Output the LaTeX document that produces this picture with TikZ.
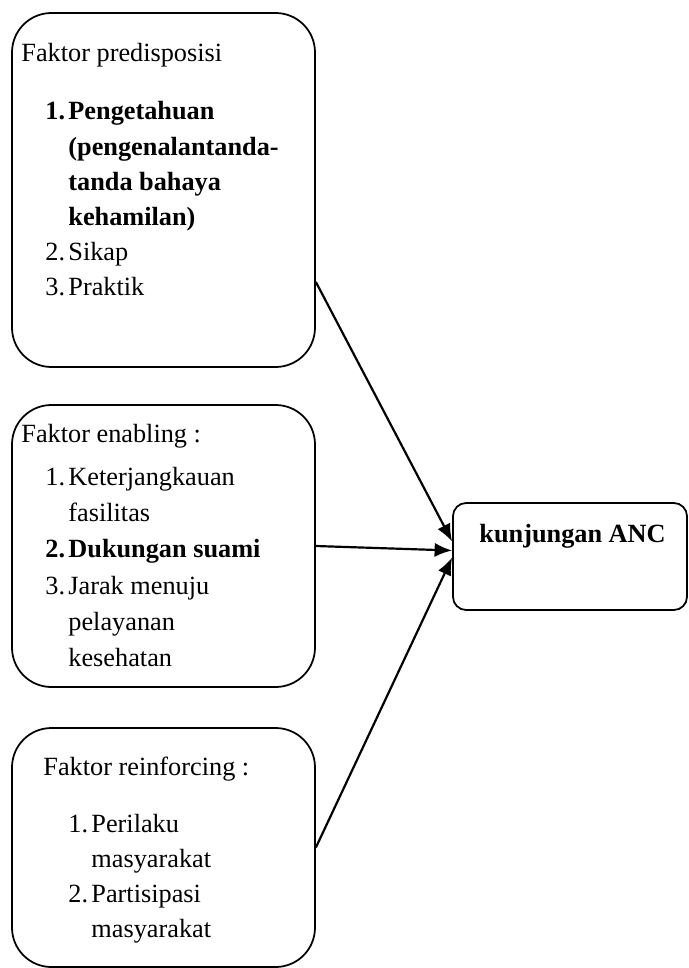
\documentclass[tikz,border=0pt]{standalone}
\usepackage{fontspec}
\setmainfont{Liberation Serif}
\usepackage{tikz}
\usetikzlibrary{arrows.meta}
\usetikzlibrary{positioning}
\usetikzlibrary{fit,calc}
\tikzset{
    factorbox/.style={draw=black, line width=0.8pt, rounded corners=18pt, inner sep=0pt},
    ancbox/.style={draw=black, line width=0.8pt, rounded corners=6pt, inner sep=0pt},
    txt/.style={inner sep=0pt, anchor=base west, font=\fontsize{12}{16}\selectfont},
    influence/.style={draw=black, line width=1pt, -{Latex[length=8pt,width=6.5pt]}},
}
\newcommand{\itm}[2]{\makebox[10.5pt][l]{#1}#2}

\begin{document}
\begin{tikzpicture}[x=0.4566pt, y=-0.4566pt]
	\useasboundingbox (0,0) rectangle (689,968);
	% boxes
	\node[factorbox, fit={(12,13) (315,367)}] (pred) {};
	\node[factorbox, fit={(12,405) (315,687)}] (enab) {};
	\node[factorbox, fit={(12,728) (315,967)}] (rein) {};
	\node[ancbox, fit={(453,503) (687,610)}] (anc) {};
	% texts
	\node[txt] (predtitle) at (21,62) {Faktor predisposisi};
	\node[txt] (predlist) at (45,120) {\begin{tabular}[t]{@{}l@{}}
		\textbf{\itm{1.}{Pengetahuan}}\\
		\textbf{\itm{}{(pengenalantanda-}}\\
		\textbf{\itm{}{tanda bahaya}}\\
		\textbf{\itm{}{kehamilan)}}\\
		\itm{2.}{Sikap}\\
		\itm{3.}{Praktik}
	\end{tabular}};
	\node[txt] (enabtitle) at (21,442) {Faktor enabling :};
	\node[txt, font=\fontsize{12}{16.6}\selectfont] (enablist) at (45,485) {\begin{tabular}[t]{@{}l@{}}
		\itm{1.}{Keterjangkauan}\\
		\itm{}{fasilitas}\\
		\textbf{\itm{2.}{Dukungan suami}}\\
		\itm{3.}{Jarak menuju}\\
		\itm{}{pelayanan}\\
		\itm{}{kesehatan}
	\end{tabular}};
	\node[txt] (reintitle) at (43,775) {Faktor reinforcing :};
	\node[txt] (reinlist) at (68,832) {\begin{tabular}[t]{@{}l@{}}
		\itm{1.}{Perilaku}\\
		\itm{}{masyarakat}\\
		\itm{2.}{Partisipasi}\\
		\itm{}{masyarakat}
	\end{tabular}};
	\node[txt] (anctitle) at (479,542) {\textbf{kunjungan ANC}};
	% arrows
	\coordinate (predout) at ($(pred.east)+(0,92)$);
	\coordinate (tippred) at ($(anc.west)+(0,-15)$);
	\coordinate (tipenab) at ($(anc.west)+(0,-6)$);
	\coordinate (tiprein) at ($(anc.west)+(0,1)$);
	\draw[influence] (predout) -- (tippred);
	\draw[influence] (enab.east) -- (tipenab);
	\draw[influence] (rein.east) -- (tiprein);
\end{tikzpicture}
\end{document}
